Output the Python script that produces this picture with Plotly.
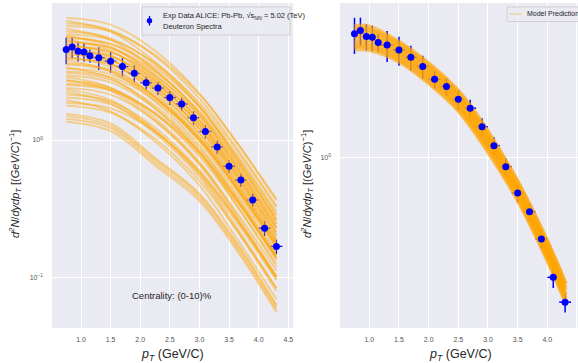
import plotly.graph_objects as go

W, H = 578, 363

# ---------------- data ----------------
pt = [0.75, 0.85, 0.95, 1.05, 1.15, 1.3, 1.5, 1.7, 1.9, 2.1, 2.3,
      2.5, 2.7, 2.9, 3.1, 3.3, 3.5, 3.7, 3.9, 4.1, 4.3]
pt_err = [0.05, 0.05, 0.05, 0.05, 0.05, 0.1, 0.1, 0.1, 0.1, 0.1, 0.1,
          0.1, 0.1, 0.1, 0.1, 0.1, 0.1, 0.1, 0.1, 0.1, 0.1]
spectrum = [4.57, 4.76, 4.43, 4.38, 4.11, 3.98, 3.75, 3.43, 3.06, 2.61, 2.39,
            2.04, 1.83, 1.455, 1.153, 0.891, 0.644, 0.511, 0.366, 0.228, 0.168]
spectrum_err = [1.0, 0.82, 0.70, 0.67, 0.46, 0.75, 0.66, 0.52, 0.43, 0.28, 0.26,
                0.24, 0.20, 0.16, 0.125, 0.098, 0.070, 0.055, 0.040, 0.028, 0.020]

# prior model curves (left panel)
prior_pt = [0.75, 1.5, 2.25, 3.0, 3.65, 4.3]
prior_curves = [
    [7.76, 6.92, 4.47, 2.19, 0.933, 0.363],
    [7.41, 6.17, 3.72, 1.78, 0.708, 0.263],
    [7.08, 6.31, 4.07, 2.00, 0.851, 0.331],
    [6.76, 6.17, 4.17, 2.14, 0.933, 0.372],
    [6.46, 5.37, 3.24, 1.55, 0.617, 0.229],
    [6.17, 5.50, 3.55, 1.74, 0.741, 0.288],
    [5.89, 5.37, 3.63, 1.86, 0.813, 0.324],
    [5.75, 4.79, 2.88, 1.38, 0.550, 0.204],
    [5.62, 5.01, 3.24, 1.58, 0.676, 0.263],
    [5.50, 5.01, 3.39, 1.74, 0.759, 0.302],
    [5.37, 4.47, 2.69, 1.29, 0.513, 0.191],
    [5.25, 4.68, 3.02, 1.48, 0.631, 0.245],
    [5.13, 4.68, 3.16, 1.62, 0.708, 0.282],
    [5.01, 4.17, 2.51, 1.20, 0.479, 0.178],
    [4.90, 4.37, 2.82, 1.38, 0.589, 0.229],
    [4.79, 4.37, 2.95, 1.51, 0.661, 0.263],
    [4.68, 3.89, 2.34, 1.12, 0.447, 0.166],
    [4.57, 4.07, 2.63, 1.29, 0.550, 0.214],
    [4.47, 4.07, 2.75, 1.41, 0.617, 0.245],
    [4.37, 3.63, 2.19, 1.05, 0.417, 0.155],
    [4.27, 3.80, 2.45, 1.20, 0.513, 0.200],
    [4.17, 3.80, 2.57, 1.32, 0.575, 0.229],
    [4.07, 3.39, 2.04, 0.977, 0.389, 0.145],
    [3.98, 3.55, 2.29, 1.12, 0.479, 0.186],
    [3.89, 3.55, 2.40, 1.23, 0.537, 0.214],
    [3.80, 3.16, 1.91, 0.912, 0.363, 0.135],
    [3.63, 3.24, 2.09, 1.02, 0.437, 0.170],
    [3.55, 3.16, 2.04, 1.00, 0.427, 0.166],
    [3.39, 2.82, 1.70, 0.813, 0.324, 0.120],
    [3.31, 3.02, 2.04, 1.05, 0.457, 0.182],
    [3.16, 2.88, 1.95, 1.00, 0.437, 0.174],
    [3.09, 2.75, 1.78, 0.871, 0.372, 0.145],
    [2.95, 2.63, 1.70, 0.832, 0.355, 0.138],
    [2.88, 2.40, 1.45, 0.692, 0.275, 0.102],
    [2.75, 2.29, 1.38, 0.661, 0.263, 0.0977],
    [2.69, 2.40, 1.55, 0.759, 0.324, 0.126],
    [2.57, 2.34, 1.58, 0.813, 0.355, 0.141],
    [2.51, 2.29, 1.55, 0.794, 0.347, 0.138],
    [2.40, 2.14, 1.38, 0.676, 0.288, 0.112],
    [2.34, 1.95, 1.17, 0.562, 0.224, 0.0832],
    [2.24, 1.86, 1.12, 0.537, 0.214, 0.0794],
    [2.14, 1.91, 1.23, 0.603, 0.257, 0.100],
    [2.04, 1.82, 1.17, 0.575, 0.245, 0.0955],
    [1.95, 1.62, 0.977, 0.468, 0.186, 0.0692],
    [1.86, 1.70, 1.15, 0.589, 0.257, 0.102],
    [1.78, 1.58, 1.02, 0.501, 0.214, 0.0832],
    [1.55, 1.32, 0.741, 0.407, 0.174, 0.0631],
    [1.50, 1.27, 0.716, 0.394, 0.168, 0.0610],
    [1.43, 1.22, 0.684, 0.376, 0.160, 0.0582],
    [1.36, 1.16, 0.653, 0.359, 0.153, 0.0556],
]

# posterior model curves (right panel)
post_pt = [0.75, 1.0, 1.5, 2.0, 2.5, 3.0, 3.5, 4.0, 4.3]
post_curves = [
    [5.01, 4.97, 4.12, 3.16, 2.25, 1.36, 0.724, 0.347, 0.209],
    [4.84, 4.80, 4.03, 3.09, 2.20, 1.33, 0.733, 0.351, 0.211],
    [4.68, 4.63, 3.85, 2.95, 2.10, 1.27, 0.676, 0.324, 0.195],
    [4.47, 4.43, 3.76, 2.88, 2.06, 1.24, 0.692, 0.331, 0.200],
    [4.27, 4.23, 3.59, 2.75, 1.96, 1.19, 0.646, 0.309, 0.186],
    [4.07, 4.04, 3.51, 2.69, 1.92, 1.16, 0.631, 0.302, 0.182],
    [3.94, 3.90, 3.35, 2.57, 1.83, 1.11, 0.610, 0.292, 0.176],
    [3.80, 3.77, 3.27, 2.51, 1.79, 1.08, 0.596, 0.285, 0.172],
]

x_ticks = [1.0, 1.5, 2.0, 2.5, 3.0, 3.5, 4.0, 4.5]
x_ticktext = ["1.0", "1.5", "2.0", "2.5", "3.0", "3.5", "4.0", "4.5"]

legend_data = "Exp Data ALICE: Pb-Pb, \u221as<sub>NN</sub> = 5.02 (TeV)"
legend_data2 = "Deuteron Spectra"
legend_model = "Model Prediction"
centrality = "Centrality: (0-10)%"
xlabel = "<i>p<sub>T</sub></i> (GeV/C)"
ylabel = "<i>d<sup>2</sup>N</i>/<i>dydp<sub>T</sub></i> [(<i>GeV</i>/<i>C</i>)<sup>\u22121</sup>]"

# ---------------- styling ----------------
FONT = "Liberation Sans Narrow, Liberation Sans, Arial, sans-serif"
ORANGE = "#FFA500"
BLUE = "#0000FF"
BG = "#EAEAF2"


def px(x):
    return x / W


def py(y):
    return 1 - y / H


fig = go.Figure()

# ---- left panel ----
fig.add_trace(go.Scatter(
    x=pt, y=spectrum, mode="markers", xaxis="x", yaxis="y",
    marker=dict(color="rgba(0,0,0,0)", size=1),
    error_y=dict(type="data", array=spectrum_err, color=BLUE, thickness=1.3, width=0),
    error_x=dict(type="data", array=pt_err, color=BLUE, thickness=1.3, width=0),
    showlegend=False, hoverinfo="skip"))
for c in prior_curves:
    fig.add_trace(go.Scatter(
        x=prior_pt, y=c, mode="lines", xaxis="x", yaxis="y",
        line=dict(color=ORANGE, width=1.9, shape="spline"), opacity=0.42,
        showlegend=False, hoverinfo="skip"))
fig.add_trace(go.Scatter(
    x=pt, y=spectrum, mode="markers", xaxis="x", yaxis="y",
    marker=dict(color=BLUE, size=7), showlegend=False))

# ---- right panel ----
fig.add_trace(go.Scatter(
    x=pt, y=spectrum, mode="markers", xaxis="x2", yaxis="y2",
    marker=dict(color="rgba(0,0,0,0)", size=1),
    error_y=dict(type="data", array=spectrum_err, color=BLUE, thickness=1.5, width=0),
    error_x=dict(type="data", array=pt_err, color=BLUE, thickness=1.5, width=0),
    showlegend=False, hoverinfo="skip"))
for c in post_curves:
    fig.add_trace(go.Scatter(
        x=post_pt, y=c, mode="lines", xaxis="x2", yaxis="y2",
        line=dict(color=ORANGE, width=5, shape="spline"), opacity=0.6,
        showlegend=False, hoverinfo="skip"))
fig.add_trace(go.Scatter(
    x=pt, y=spectrum, mode="markers", xaxis="x2", yaxis="y2",
    marker=dict(color=BLUE, size=7), showlegend=False))

axis_common = dict(showgrid=True, gridcolor="white", gridwidth=1, zeroline=False,
                   showline=False, ticks="", tickfont=dict(size=7, color="#555", family=FONT))

fig.update_layout(
    width=W, height=H,
    margin=dict(l=0, r=0, t=0, b=0),
    paper_bgcolor="white", plot_bgcolor=BG,
    showlegend=False,
    xaxis=dict(domain=[px(52), px(293)], range=[0.51, 4.58], tickvals=x_ticks,
               ticktext=x_ticktext, ticklabelstandoff=6, anchor="y", **axis_common),
    yaxis=dict(domain=[py(328), py(3)], type="log", range=[-1.369, 0.998],
               tickvals=[0.1, 1], ticktext=["10<sup>\u22121</sup>", "10<sup>0</sup>"],
               ticklabelstandoff=8, anchor="x", **axis_common),
    xaxis2=dict(domain=[px(340), 1.0], range=[0.506, 4.517], tickvals=x_ticks,
                ticktext=x_ticktext, ticklabelstandoff=6, anchor="y2", **axis_common),
    yaxis2=dict(domain=[py(328), py(3)], type="log", range=[-0.913, 0.825],
                tickvals=[1], ticktext=["10<sup>0</sup>"],
                ticklabelstandoff=8, anchor="x2", **axis_common),
)

TXT = "#262626"
ann = []
# axis labels
for cx in (172, 460):
    ann.append(dict(x=px(cx), y=py(355), xref="paper", yref="paper", text=xlabel,
                    showarrow=False, font=dict(size=12.5, color=TXT, family=FONT),
                    xanchor="center", yanchor="middle"))
for cx in (15, 307):
    ann.append(dict(x=px(cx), y=py(184), xref="paper", yref="paper", text=ylabel,
                    textangle=-90, showarrow=False, font=dict(size=11, color=TXT, family=FONT),
                    xanchor="center", yanchor="middle"))
ann.append(dict(x=px(172), y=py(295), xref="paper", yref="paper", text=centrality,
                showarrow=False, font=dict(size=9.5, color=TXT, family=FONT),
                xanchor="center", yanchor="middle"))
# legend texts
ann.append(dict(x=px(161), y=py(15.5), xref="paper", yref="paper", text=legend_data,
                showarrow=False, font=dict(size=7.5, color=TXT, family=FONT),
                xanchor="left", yanchor="middle"))
ann.append(dict(x=px(161), y=py(27), xref="paper", yref="paper", text=legend_data2,
                showarrow=False, font=dict(size=7.5, color=TXT, family=FONT),
                xanchor="left", yanchor="middle"))
ann.append(dict(x=px(525), y=py(14), xref="paper", yref="paper", text=legend_model,
                showarrow=False, font=dict(size=7, color=TXT, family=FONT),
                xanchor="left", yanchor="middle"))

shapes = [
    # left legend frame
    dict(type="rect", xref="paper", yref="paper", x0=px(142), x1=px(290), y0=py(35), y1=py(7),
         fillcolor="rgba(234,234,242,0.8)", line=dict(color="#D0D0D0", width=1), layer="above"),
    dict(type="line", xref="paper", yref="paper", x0=px(149.5), x1=px(149.5), y0=py(25.5), y1=py(16),
         line=dict(color=BLUE, width=1.3), layer="above"),
    dict(type="circle", xref="paper", yref="paper", x0=px(146.8), x1=px(152.2), y0=py(23.5), y1=py(18),
         fillcolor=BLUE, line=dict(color=BLUE, width=0), layer="above"),
    # right legend frame
    dict(type="rect", xref="paper", yref="paper", x0=px(507), x1=px(600), y0=py(21.5), y1=py(7),
         fillcolor="rgba(234,234,242,0.8)", line=dict(color="#D0D0D0", width=1), layer="above"),
    dict(type="line", xref="paper", yref="paper", x0=px(510), x1=px(522), y0=py(14), y1=py(14),
         line=dict(color="rgba(255,165,0,0.5)", width=1), layer="above"),
]

fig.update_layout(annotations=ann, shapes=shapes)
fig.write_html("out.html", config={"displayModeBar": False},
               post_script="document.body.style.margin='0px';document.body.style.overflow='hidden';")
